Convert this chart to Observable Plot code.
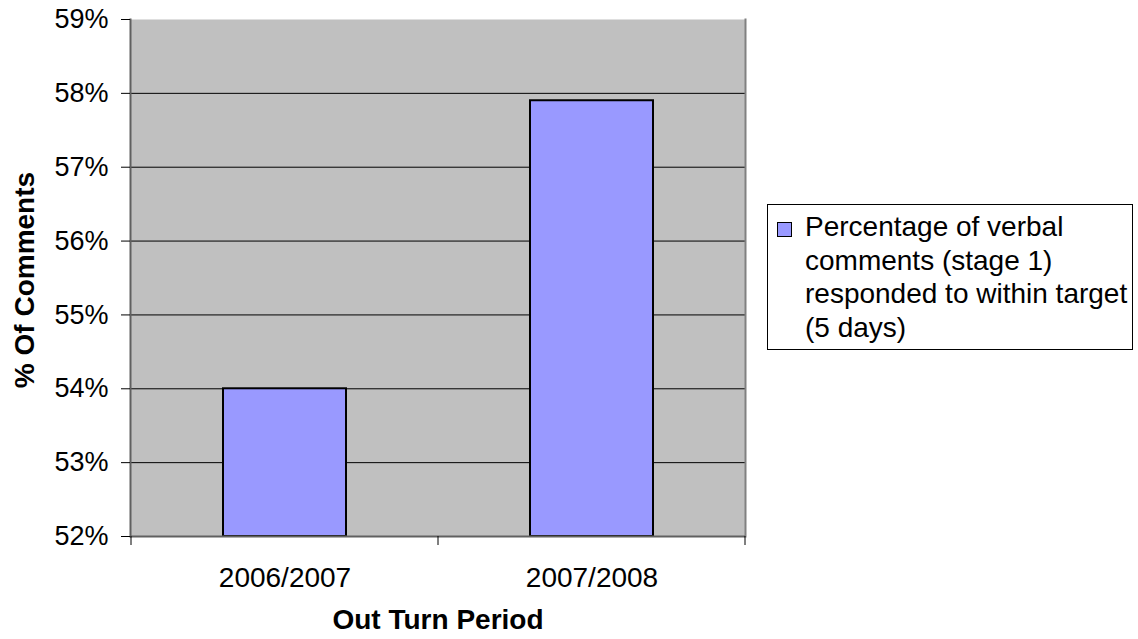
<!DOCTYPE html>
<html>
<head>
<meta charset="utf-8">
<script src="https://cdn.jsdelivr.net/npm/d3@7"></script>
<script src="https://cdn.jsdelivr.net/npm/@observablehq/plot@0.6"></script>
<style>
  body { margin: 0; background: #fff; font-family: "Liberation Sans", Arial, sans-serif; }
  #wrap { position: relative; width: 1138px; height: 639px; overflow: hidden; }
  #legend { position: absolute; left: 767px; top: 204px; width: 366px; height: 146px;
            box-sizing: border-box; border: 1px solid #000; background: #fff; }
  #legend .sw { position: absolute; left: 9px; top: 17px; width: 15px; height: 15px;
                box-sizing: border-box; background: #9999ff; border: 1.5px solid #000; }
  #legend .txt { position: absolute; left: 37px; top: 5px; font-size: 28px; line-height: 33.5px;
                 color: #000; white-space: nowrap; }
</style>
</head>
<body>
<div id="wrap"></div>
<script>
const periods = ["2006/2007", "2007/2008"];
const values = [54.0, 57.9];
const yTicks = [52, 53, 54, 55, 56, 57, 58, 59];
const legendLines = ["Percentage of verbal", "comments (stage 1)", "responded to within target", "(5 days)"];
const yTitle = "% Of Comments";
const xTitle = "Out Turn Period";

const data = periods.map((p, i) => ({period: p, value: values[i]}));
const yMin = yTicks[0], yMax = yTicks[yTicks.length - 1];

const plot = Plot.plot({
  width: 1138, height: 639,
  marginLeft: 130, marginRight: 393, marginTop: 19, marginBottom: 103,
  style: {fontFamily: "'Liberation Sans', Arial, sans-serif", background: "transparent", overflow: "visible"},
  x: {domain: periods, paddingInner: 0.6, paddingOuter: 0.3, label: null},
  y: {domain: [yMin, yMax], label: null},
  marks: [
    Plot.frame({fill: "#c0c0c0", stroke: null}),
    Plot.gridY(yTicks.filter(d => d > yMin && d < yMax), {stroke: "#000", strokeOpacity: 1, strokeWidth: 1}),
    Plot.barY(data, {x: "period", y1: yMin, y2: "value", fill: "#9999ff", stroke: "#000", strokeWidth: 2}),
    Plot.frame({anchor: "right", stroke: "#808080", strokeWidth: 2}),
    Plot.ruleY([yMin], {stroke: "#606060", strokeWidth: 2}),
    Plot.frame({anchor: "left", stroke: "#606060", strokeWidth: 2}),
    Plot.axisY(yTicks, {tickFormat: d => d + "%", tickSize: 9, tickPadding: 13, fontSize: 27, label: null, stroke: "#000"}),
    Plot.axisX({tickSize: 0, tickPadding: 31, fontSize: 28, label: null}),
    Plot.text([yTitle], {frameAnchor: "left", textAnchor: "middle", lineAnchor: "middle", rotate: -90, dx: -105, dy: 2, fontWeight: "bold", fontSize: 28, fill: "#000"}),
    Plot.text([xTitle], {frameAnchor: "bottom", textAnchor: "middle", lineAnchor: "middle", dy: 84, fontWeight: "bold", fontSize: 28, fill: "#000"})
  ]
});

document.getElementById("wrap").appendChild(plot);

// category boundary tick marks on the x axis, derived from the band scale
const xs = plot.scale("x");
const ys = plot.scale("y");
const y0 = ys.apply(yMin);
const bounds = periods.map(p => xs.apply(p) + xs.bandwidth / 2 - xs.step / 2);
bounds.push(xs.apply(periods[periods.length - 1]) + xs.bandwidth / 2 + xs.step / 2);
d3.select(plot).append("g")
  .selectAll("line").data(bounds).join("line")
  .attr("x1", d => d).attr("x2", d => d)
  .attr("y1", y0).attr("y2", y0 + 9)
  .attr("stroke", "#000").attr("stroke-width", 1);

// legend
const lg = document.createElement("div");
lg.id = "legend";
lg.innerHTML = '<div class="sw"></div><div class="txt">' + legendLines.join("<br>") + '</div>';
document.getElementById("wrap").appendChild(lg);
</script>
</body>
</html>
